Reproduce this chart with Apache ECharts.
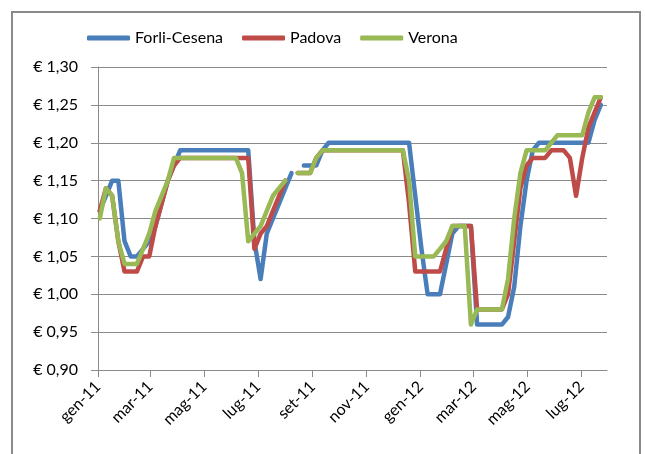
<!DOCTYPE html>
<html>
<head>
<meta charset="utf-8">
<title>Prezzi</title>
<script src="https://cdn.jsdelivr.net/npm/echarts@6/dist/echarts.min.js"></script>
<style>
  html, body { margin: 0; padding: 0; background: #ffffff; }
  #chart { width: 645px; height: 454px; }
</style>
</head>
<body>
<div id="chart"></div>
<script>
// Weekly survey dates
const weeks = [
  '2011-01-03','2011-01-10','2011-01-17','2011-01-24','2011-01-31','2011-02-07','2011-02-14','2011-02-21',
  '2011-02-28','2011-03-07','2011-03-14','2011-03-21','2011-03-28','2011-04-04','2011-04-11','2011-04-18',
  '2011-04-25','2011-05-02','2011-05-09','2011-05-16','2011-05-23','2011-05-30','2011-06-06','2011-06-13',
  '2011-06-20','2011-06-27','2011-07-04','2011-07-11','2011-07-18','2011-07-25','2011-08-01','2011-08-08',
  '2011-08-15','2011-08-22','2011-08-29','2011-09-05','2011-09-12','2011-09-19','2011-09-26','2011-10-03',
  '2011-10-10','2011-10-17','2011-10-24','2011-10-31','2011-11-07','2011-11-14','2011-11-21','2011-11-28',
  '2011-12-05','2011-12-12','2011-12-19','2011-12-26','2012-01-02','2012-01-09','2012-01-16','2012-01-23',
  '2012-01-30','2012-02-06','2012-02-13','2012-02-20','2012-02-27','2012-03-05','2012-03-12','2012-03-19',
  '2012-03-26','2012-04-02','2012-04-09','2012-04-16','2012-04-23','2012-04-30','2012-05-07','2012-05-14',
  '2012-05-21','2012-05-28','2012-06-04','2012-06-11','2012-06-18','2012-06-25','2012-07-02','2012-07-09',
  '2012-07-16','2012-07-23'
];

const forliCesena = [
  1.11, 1.13, 1.15, 1.15, 1.07, 1.05, 1.05, 1.06, 1.07, 1.09, 1.12, 1.15, 1.17,
  1.19, 1.19, 1.19, 1.19, 1.19, 1.19, 1.19, 1.19, 1.19, 1.19, 1.19, 1.19,
  1.07, 1.02, 1.08, 1.10, 1.12, 1.14, 1.16, null, 1.17, 1.17, 1.17, 1.19,
  1.20, 1.20, 1.20, 1.20, 1.20, 1.20, 1.20, 1.20, 1.20, 1.20, 1.20, 1.20, 1.20, 1.20,
  1.13, 1.06, 1.00, 1.00, 1.00, 1.04, 1.08, 1.09, 1.09, 1.09,
  0.96, 0.96, 0.96, 0.96, 0.96, 0.97, 1.01, 1.09, 1.15, 1.19,
  1.20, 1.20, 1.20, 1.20, 1.20, 1.20, 1.20, 1.20, 1.20, 1.23, 1.25
];

const padova = [
  1.11, 1.14, 1.13, 1.07, 1.03, 1.03, 1.03, 1.05, 1.05, 1.09, 1.12, 1.15, 1.17,
  1.18, 1.18, 1.18, 1.18, 1.18, 1.18, 1.18, 1.18, 1.18, 1.18, 1.18, 1.18,
  1.06, 1.08, 1.09, 1.11, 1.13, 1.15, null, 1.16, 1.16, 1.16, 1.18,
  1.19, 1.19, 1.19, 1.19, 1.19, 1.19, 1.19, 1.19, 1.19, 1.19, 1.19, 1.19, 1.19, 1.19,
  1.12, 1.03, 1.03, 1.03, 1.03, 1.03, 1.06, 1.09, 1.09, 1.09, 1.09,
  0.98, 0.98, 0.98, 0.98, 0.98, 1.00, 1.07, 1.14, 1.17, 1.18,
  1.18, 1.18, 1.19, 1.19, 1.19, 1.18, 1.13, 1.18, 1.22, 1.24, 1.26
];

const verona = [
  1.10, 1.14, 1.13, 1.07, 1.04, 1.04, 1.04, 1.06, 1.08, 1.11, 1.13, 1.15, 1.18,
  1.18, 1.18, 1.18, 1.18, 1.18, 1.18, 1.18, 1.18, 1.18, 1.18, 1.16,
  1.07, 1.08, 1.09, 1.11, 1.13, 1.14, 1.15, null, 1.16, 1.16, 1.16, 1.18,
  1.19, 1.19, 1.19, 1.19, 1.19, 1.19, 1.19, 1.19, 1.19, 1.19, 1.19, 1.19, 1.19, 1.19,
  1.15, 1.05, 1.05, 1.05, 1.05, 1.06, 1.07, 1.09, 1.09, 1.09, 0.96,
  0.98, 0.98, 0.98, 0.98, 0.98, 1.02, 1.10, 1.16, 1.19, 1.19,
  1.19, 1.19, 1.20, 1.21, 1.21, 1.21, 1.21, 1.21, 1.24, 1.26, 1.26
];

// Axis ticks: first day of every other month
const tickDates = ['2011-01-01','2011-03-01','2011-05-01','2011-07-01','2011-09-01','2011-11-01',
                   '2012-01-01','2012-03-01','2012-05-01','2012-07-01'];
const tickLabels = ['gen-11','mar-11','mag-11','lug-11','set-11','nov-11',
                    'gen-12','mar-12','mag-12','lug-12'];
const axisStart = '2011-01-01';
const axisEnd = '2012-07-30';

function dayOf(s) {
  const p = s.split('-').map(Number);
  const a = axisStart.split('-').map(Number);
  return Math.round((Date.UTC(p[0], p[1] - 1, p[2]) - Date.UTC(a[0], a[1] - 1, a[2])) / 86400000);
}

const tickDays = tickDates.map(dayOf);
const labelByDay = {};
tickDays.forEach((d, i) => { labelByDay[d] = tickLabels[i]; });

function pairs(values) {
  return weeks.map((w, i) => [dayOf(w), values[i]]);
}

const FONT = 'Lato, "Liberation Sans", sans-serif';

const chart = echarts.init(document.getElementById('chart'), null, { renderer: 'canvas' });

chart.setOption({
  backgroundColor: '#ffffff',
  animation: false,
  graphic: [{
    type: 'rect',
    shape: { x: 12, y: 12, width: 628, height: 460 },
    style: { fill: 'none', stroke: '#8a8a8a', lineWidth: 2 },
    z: -1
  }],
  legend: {
    left: 82,
    top: 25,
    itemWidth: 43,
    itemHeight: 5,
    itemGap: 19,
    icon: 'roundRect',
    textStyle: { fontFamily: FONT, fontSize: 16, color: '#000000' },
    data: ['Forli-Cesena', 'Padova', 'Verona']
  },
  grid: { left: 98, right: 38, top: 67, bottom: 84, containLabel: false },
  xAxis: {
    type: 'value',
    min: 0,
    max: dayOf(axisEnd),
    axisLine: { show: true, lineStyle: { color: '#8a8a8a', width: 1 } },
    axisTick: { show: true, customValues: tickDays, length: 7, lineStyle: { color: '#8a8a8a' } },
    splitLine: { show: false },
    axisLabel: {
      customValues: tickDays,
      rotate: 45,
      margin: 14,
      fontFamily: FONT,
      fontSize: 16,
      color: '#000000',
      formatter: v => labelByDay[v] || ''
    }
  },
  yAxis: {
    type: 'value',
    min: 0.90,
    max: 1.30,
    interval: 0.05,
    axisLine: { show: true, lineStyle: { color: '#8a8a8a', width: 1 } },
    axisTick: { show: true, length: 7, lineStyle: { color: '#8a8a8a' } },
    splitLine: { show: true, lineStyle: { color: '#8a8a8a', width: 1 } },
    axisLabel: {
      margin: 20,
      fontFamily: FONT,
      fontSize: 16,
      color: '#000000',
      formatter: v => '€ ' + v.toFixed(2).replace('.', ',')
    }
  },
  series: [
    {
      name: 'Forli-Cesena', type: 'line', data: pairs(forliCesena),
      showSymbol: false, connectNulls: false,
      itemStyle: { color: '#4a7ebb' },
      lineStyle: { color: '#4a7ebb', width: 4.5, join: 'round', cap: 'round' }
    },
    {
      name: 'Padova', type: 'line', data: pairs(padova),
      showSymbol: false, connectNulls: false,
      itemStyle: { color: '#be4b48' },
      lineStyle: { color: '#be4b48', width: 4.5, join: 'round', cap: 'round' }
    },
    {
      name: 'Verona', type: 'line', data: pairs(verona),
      showSymbol: false, connectNulls: false,
      itemStyle: { color: '#98b954' },
      lineStyle: { color: '#98b954', width: 4.5, join: 'round', cap: 'round' }
    }
  ]
});
</script>
</body>
</html>
